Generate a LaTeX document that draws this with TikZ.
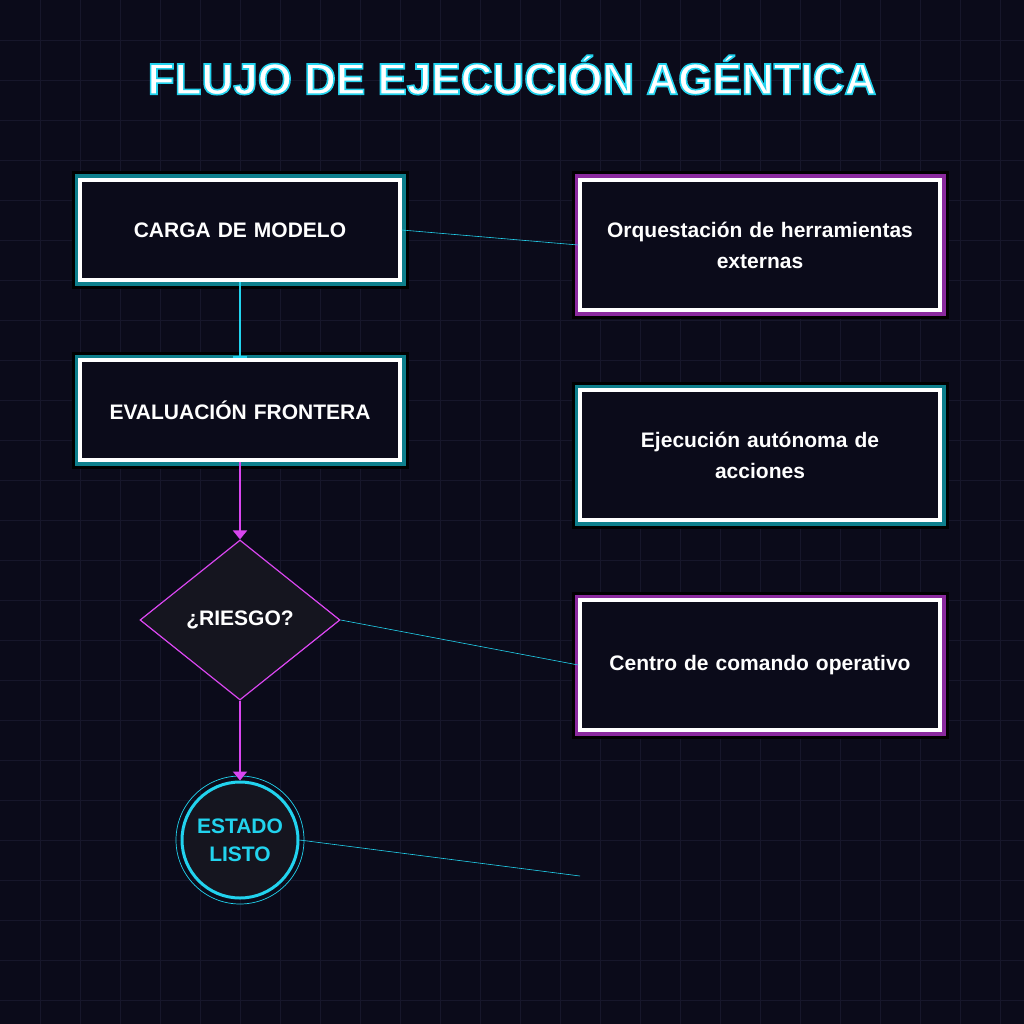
\documentclass[tikz,border=0pt]{standalone}
\usepackage{fontspec}
\setmainfont{Liberation Sans}
\usetikzlibrary{arrows.meta,shapes.geometric}
\definecolor{bgdark}{HTML}{0B0B1A}
\definecolor{gridc}{HTML}{17172B}
\definecolor{neoncyan}{HTML}{22D3EE}
\definecolor{tealband}{HTML}{0E7F8C}
\definecolor{neonmag}{HTML}{D946EF}
\definecolor{magband}{HTML}{8B2A9E}
\definecolor{nodefill}{HTML}{15151F}
\newcommand{\outlinetext}[1]{\special{pdf:literal direct 2 Tr 1.6 w 0.133 0.827 0.933 RG}#1\special{pdf:literal direct 0 Tr}}
\tikzset{
  stepbox/.style={draw=white, line width=3.5pt, fill=bgdark, minimum width=320pt,
    minimum height=100pt, font=\bfseries\fontsize{21}{31}\selectfont, text=white,
    align=center, text width=310pt},
  sidebox/.style={stepbox, minimum width=360pt, minimum height=130pt, text width=345pt},
  tealglow/.style={preaction={draw=black, line width=17pt}, preaction={draw=tealband, line width=11pt}},
  magglow/.style={preaction={draw=black, line width=17pt}, preaction={draw=magband, line width=11pt}},
  link/.style={neoncyan, line width=0.6pt},
  flow/.style={neonmag, line width=2pt, -{Triangle[width=14pt,length=9pt]}}
}
\begin{document}
\begin{tikzpicture}[x=1pt,y=-1pt]
\fill[bgdark] (0,0) rectangle (1024,1024);
\useasboundingbox (0,0) rectangle (1024,1024);
\foreach \g in {40,80,...,1000} {
  \draw[gridc, line width=0.8pt] (\g,0) -- (\g,1024);
  \draw[gridc, line width=0.8pt] (0,\g) -- (1024,\g);
}

% title with glow
\node (title) [text=white, font=\bfseries\fontsize{44}{50}\selectfont] at (512,75) {\outlinetext{FLUJO DE EJECUCIÓN AGÉNTICA}};

% main flow
\node (carga) at (240,230) [stepbox, tealglow] {CARGA DE MODELO};
\node (eval) at (240,410) [stepbox, tealglow] {EVALUACIÓN FRONTERA};
\node (riesgo) at (240,620) [diamond, draw=neonmag, line width=1.2pt, fill=nodefill,
  minimum width=200pt, minimum height=160pt, aspect=1.25, inner sep=0pt,
  text=white, font=\bfseries\fontsize{21}{31}\selectfont] {¿RIESGO?};
\node (listo) at (240,840) [circle, draw=neoncyan, line width=3pt, fill=nodefill,
  minimum size=116pt, inner sep=0pt, align=center, text=neoncyan,
  font=\bfseries\fontsize{21}{28}\selectfont] {ESTADO\\LISTO};
\draw[neoncyan, line width=0.7pt] (listo.center) circle (64);

% side boxes
\node (orq) at (760,245) [sidebox, magglow] {Orquestación de herramientas\\externas};
\node (ejec) at (760,455) [sidebox, tealglow] {Ejecución autónoma de\\acciones};
\node (centro) at (760,665) [sidebox, magglow] {Centro de comando operativo};
\coordinate (libre) at (580,876);

% connectors
\draw[neoncyan, line width=2pt, -{Bar[width=14pt]}] (carga) -- (eval);
\draw[flow] (eval) -- (riesgo);
\draw[flow] (riesgo) -- (listo.north);
\draw[link] (carga.east) -- (orq.west);
\draw[link] (riesgo.east) -- (centro.west);
\draw[link] (listo.east) -- (libre);
\end{tikzpicture}
\end{document}
